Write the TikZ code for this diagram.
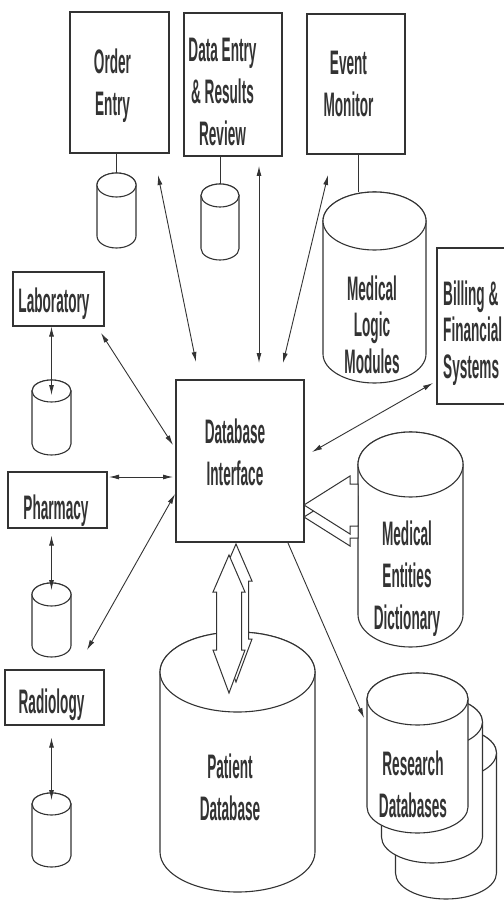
\documentclass[tikz,border=0pt]{standalone}
\usepackage{fontspec}
\setmainfont{Liberation Sans}
\newfontfamily\bigf[FakeStretch=0.40]{Liberation Sans Bold}
\usetikzlibrary{arrows.meta}
\definecolor{ink}{HTML}{333333}
\newcommand\mytab[1]{\begin{tabular}[t]{@{}c@{}}#1\end{tabular}}
\newcommand\mytabl[1]{\begin{tabular}[t]{@{}l@{}}#1\end{tabular}}
% cx, top centre y, bottom centre y, rx, ry
\newcommand\dbcyl[5]{%
  \draw[cylline] ({#1-#4},#2) -- ({#1-#4},#3)
     arc[start angle=180,end angle=360,x radius=#4pt,y radius=#5pt]
     -- ({#1+#4},#2)
     arc[start angle=0,end angle=180,x radius=#4pt,y radius=#5pt] -- cycle;
  \draw[cylline] (#1,#2) ellipse[x radius=#4pt, y radius=#5pt];
}
\begin{document}
\begin{tikzpicture}[x=1pt,y=-1pt,
  box/.style={draw=ink, line width=1.3pt, fill=white, inner sep=0pt, rectangle},
  cylline/.style={draw=ink, line width=1.1pt, fill=white},
  txt/.style={inner sep=0pt, anchor=base, text=ink, font=\bigf\fontsize{34}{42}\selectfont},
  stxt/.style={txt},
  conn/.style={draw=ink, line width=0.9pt},
  dbl/.style={conn, {Latex[length=10pt,width=5pt]}-{Latex[length=10pt,width=5pt]}},
  sgl/.style={conn, -{Latex[length=10pt,width=5pt]}},
  hol/.style={draw=ink, line width=1pt, fill=white, line join=miter}]
\useasboundingbox (0,0) rectangle (503,901);
\fill[white] (0,0) rectangle (503,901);

% boxes
\node[box, minimum width=99pt, minimum height=141pt] (oebox) at (119.5,82.5) {};
\node[box, minimum width=98pt, minimum height=143pt] (debox) at (233,84.5) {};
\node[box, minimum width=98pt, minimum height=140pt] (embox) at (356,84) {};
\node[box, minimum width=91pt, minimum height=54pt] (labbox) at (58.5,299) {};
\node[box, minimum width=99pt, minimum height=56pt] (phbox) at (57.5,500) {};
\node[box, minimum width=99pt, minimum height=55pt] (radbox) at (54.5,697.5) {};
\node[box, minimum width=128pt, minimum height=162pt] (dbibox) at (240,461) {};
\node[box, minimum width=78pt, minimum height=156pt] (billbox) at (476,326) {};

% cylinders
\dbcyl{116.5}{185}{236}{19.5}{12}
\coordinate (oecyl) at (116.5,173);
\dbcyl{220}{195.5}{248.5}{19}{11.5}
\coordinate (decyl) at (220,184);
\dbcyl{374.5}{221}{354}{51.5}{29}
\coordinate (mlm) at (358,192);
\dbcyl{51.5}{391}{444}{19.5}{11}
\coordinate (labcyl) at (51.5,395);
\dbcyl{51.5}{594.5}{645.5}{19.5}{11.5}
\coordinate (phcyl) at (51.5,590);
\dbcyl{51.5}{804}{856}{19.5}{11}
\coordinate (radcyl) at (51.5,800);
\dbcyl{237.5}{672}{852}{77.5}{40}
\coordinate (patcyl) at (237.5,672);
\dbcyl{410.5}{464.5}{614.5}{52.5}{32.5}
\coordinate (medcyl) at (358,505);
\dbcyl{446}{753}{873}{50.5}{26}
\dbcyl{432}{722}{837}{50.5}{26}
\dbcyl{417.5}{699}{807}{50.5}{26}
\coordinate (rescyl) at (364,718);

% hollow arrow: patient database <-> database interface
\draw[hol] (236,544) -- (252,581) -- (248.5,581) -- (248.5,639) -- (252,639) -- (236,682)
   -- (220,639) -- (223.5,639) -- (223.5,581) -- (220,581) -- cycle;
\draw[hol] (229,555) -- (245,592) -- (241.5,592) -- (241.5,650) -- (245,650) -- (229,693)
   -- (213,650) -- (216.5,650) -- (216.5,592) -- (213,592) -- cycle;

% hollow arrow: medical entities dictionary -> database interface
\draw[hol] (304,517) -- (350,488) -- (350,496) -- (358,496) -- (358,538) -- (350,538) -- (350,546) -- cycle;
\draw[hol] (304,505) -- (350,476) -- (350,484) -- (358,484) -- (358,526) -- (350,526) -- (350,534) -- cycle;

% plain links box -> cylinder
\draw[conn] (oecyl |- oebox.south) -- (oecyl);
\draw[conn] (decyl |- debox.south) -- (decyl);
\draw[conn] (mlm |- embox.south) -- (mlm);

% arrow end points
\coordinate (oeA) at (158,175);  \coordinate (oeB) at (196,362);
\coordinate (deA) at (259,166);  \coordinate (deB) at (259,363);
\coordinate (emA) at (328,175);  \coordinate (emB) at (283,363);
\coordinate (labA) at (101,333); \coordinate (labB) at (173,445);
\coordinate (phA) at (109,477);  \coordinate (phB) at (173,477);
\coordinate (radA) at (175,494); \coordinate (radB) at (87,650);
\coordinate (biA) at (312,452);  \coordinate (biB) at (433,383);
\coordinate (resA) at (288,543);

\draw[dbl] (oeA) -- (oeB);
\draw[dbl] (deA) -- (deB);
\draw[dbl] (emA) -- (emB);
\draw[dbl] (labA) -- (labB);
\draw[dbl] (phA) -- (phB);
\draw[dbl] (radA) -- (radB);
\draw[dbl] (biA) -- (biB);
\draw[sgl] (resA) -- (rescyl);
\draw[dbl] (labcyl |- labbox.south) -- (labcyl);
\draw[dbl] (phcyl |- phbox.south) ++(0,7) -- (phcyl);
\draw[dbl] (radcyl |- radbox.south) ++(0,12) -- (radcyl);

% texts
\node[txt] (toe) at (112.5,74) {\mytab{Order\\Entry}};
\node[txt] (tde) at (222.5,62) {\mytab{Data Entry\\\& Results\\Review}};
\node[txt] (tem) at (348.5,75) {\mytab{Event\\Monitor}};
\node[txt, font=\bigf\fontsize{34}{36.5}\selectfont] (tmlm) at (372,300) {\mytab{Medical\\Logic\\Modules}};
\node[txt, anchor=base west, font=\bigf\fontsize{34}{36.5}\selectfont] (tbill) at (443,305) {\mytabl{Billing \&\\Financial\\Systems}};
\node[stxt] (tlab) at (54,312) {Laboratory};
\node[stxt] (tdbi) at (235,443) {\mytab{Database\\Interface}};
\node[stxt] (tph) at (56,519) {Pharmacy};
\node[stxt] (trad) at (51.5,713) {Radiology};
\node[stxt] (tmed) at (407,545) {\mytab{Medical\\Entities\\Dictionary}};
\node[stxt] (tpat) at (230,778) {\mytab{Patient\\Database}};
\node[stxt] (tres) at (413,775) {\mytab{Research\\Databases}};
\end{tikzpicture}
\end{document}
